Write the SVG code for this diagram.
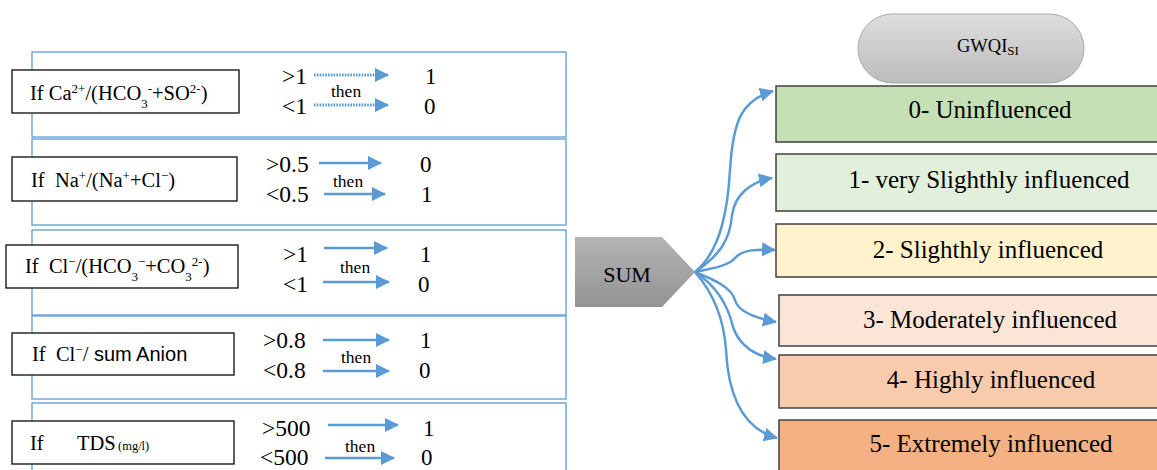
<svg xmlns="http://www.w3.org/2000/svg" width="1157" height="470" viewBox="0 0 1157 470" font-family="'Liberation Serif', 'Times New Roman', 'DejaVu Serif', serif">
<defs>
<style>
text{fill:#000;white-space:pre}
.outer{fill:#fff;stroke:#5B9BD5;stroke-width:1.3}
.cond{fill:#fff;stroke:#1a1a1a;stroke-width:1.4}
.lbl{font-size:20.5px}
.num{font-size:23.5px}
.res{font-size:23px}
.then{font-size:17.5px}
.arr{stroke:#5B9BD5;stroke-width:2.5;fill:none;marker-end:url(#ah)}
.dot{stroke-dasharray:1.6 1.2;stroke-width:3}
.cls{stroke:#404040;stroke-width:1.5}
.ct{font-size:25px;text-anchor:middle}
.sup{font-size:13px;baseline-shift:super}
.sub{font-size:13px;baseline-shift:sub}
</style>
<marker id="ah" viewBox="0 0 14 14" markerWidth="14" markerHeight="14" refX="13" refY="7" orient="auto" markerUnits="userSpaceOnUse">
<path d="M0,0 L14,7 L0,14 z" fill="#5B9BD5"/>
</marker>
<linearGradient id="gPill" x1="0" y1="0" x2="0" y2="1">
<stop offset="0" stop-color="#dedede"/>
<stop offset="1" stop-color="#bcbcbc"/>
</linearGradient>
<linearGradient id="gSum" x1="0" y1="0" x2="0" y2="1">
<stop offset="0" stop-color="#b4b4b4"/>
<stop offset="1" stop-color="#939393"/>
</linearGradient>
</defs>
<rect width="1157" height="470" fill="#fff"/>

<g id="rule1">
<rect class="outer" x="32" y="52" width="534" height="85"/>
<rect class="cond" x="12" y="70" width="227" height="43"/>
<text class="lbl" x="30" y="100">If Ca<tspan class="sup">2+</tspan>/(HCO<tspan class="sub">3</tspan><tspan class="sup">-</tspan>+SO<tspan class="sup">2-</tspan>)</text>
<text class="num" x="282" y="84">&gt;1</text>
<text class="num" x="282" y="114">&lt;1</text>
<text class="then" x="331" y="97">then</text>
<text class="res" x="425" y="84">1</text>
<text class="res" x="424" y="114">0</text>
</g>

<g id="rule2">
<rect class="outer" x="32" y="139" width="534" height="86"/>
<rect class="cond" x="12" y="157" width="225" height="44"/>
<text class="lbl" x="31" y="187">If  Na<tspan class="sup">+</tspan>/(Na<tspan class="sup">+</tspan>+Cl<tspan class="sup">−</tspan>)</text>
<text class="num" x="266" y="172">&gt;0.5</text>
<text class="num" x="266" y="202">&lt;0.5</text>
<text class="then" x="333" y="187">then</text>
<text class="res" x="420" y="172">0</text>
<text class="res" x="421" y="202">1</text>
</g>

<g id="rule3">
<rect class="outer" x="32" y="230" width="534" height="85"/>
<rect class="cond" x="6" y="245" width="232" height="43"/>
<text class="lbl" x="25" y="273">If  Cl<tspan class="sup">−</tspan>/(HCO<tspan class="sub">3</tspan><tspan class="sup">−</tspan>+CO<tspan class="sub">3</tspan><tspan class="sup">2-</tspan>)</text>
<text class="num" x="283" y="262">&gt;1</text>
<text class="num" x="283" y="292">&lt;1</text>
<text class="then" x="340" y="273">then</text>
<text class="res" x="420" y="262">1</text>
<text class="res" x="418" y="292">0</text>
</g>

<g id="rule4">
<rect class="outer" x="32" y="316" width="534" height="83"/>
<rect class="cond" x="12" y="333" width="222" height="42"/>
<text class="lbl" x="32" y="361">If  Cl<tspan class="sup">−</tspan>/<tspan font-family="'Liberation Sans', Arial, sans-serif" font-size="20px"> sum Anion</tspan></text>
<text class="num" x="263" y="348">&gt;0.8</text>
<text class="num" x="263" y="378">&lt;0.8</text>
<text class="then" x="341" y="363">then</text>
<text class="res" x="420" y="348">1</text>
<text class="res" x="419" y="378">0</text>
</g>

<g id="rule5">
<rect class="outer" x="32" y="403" width="534" height="75"/>
<rect class="cond" x="12" y="421" width="222" height="43"/>
<text class="lbl" x="30" y="450">If</text>
<text class="lbl" x="77" y="450">TDS</text>
<text x="118" y="450" font-size="12.5">(mg/l)</text>
<text class="num" x="262" y="436">&gt;500</text>
<text class="num" x="260" y="465">&lt;500</text>
<text class="then" x="345" y="452">then</text>
<text class="res" x="423" y="436">1</text>
<text class="res" x="421" y="465">0</text>
</g>

<g id="sum">
<polygon points="575,237 662,237 695,272 662,307 575,307" fill="url(#gSum)"/>
<text x="627" y="282" font-size="22" text-anchor="middle" fill="#222">SUM</text>
</g>

<g id="gwqi">
<rect x="858" y="14" width="226" height="69" rx="34.5" fill="url(#gPill)" stroke="#a8a8a8" stroke-width="1"/>
<text x="957" y="52" font-size="18.5" fill="#222">GWQI<tspan font-size="13" dy="3">SI</tspan></text>
</g>

<g id="class0">
<rect class="cls" x="776" y="86" width="390" height="56" fill="#C5E0B4"/>
<text class="ct" x="990" y="118">0- Uninfluenced</text>
</g>
<g id="class1">
<rect class="cls" x="776" y="154" width="390" height="57" fill="#E2EFDA"/>
<text class="ct" x="989" y="188">1- very Slighthly influenced</text>
</g>
<g id="class2">
<rect class="cls" x="776" y="224" width="390" height="53" fill="#FFF2CC"/>
<text class="ct" x="988" y="258">2- Slighthly influenced</text>
</g>
<g id="class3">
<rect class="cls" x="779" y="295" width="390" height="51" fill="#FBE5D6"/>
<text class="ct" x="990" y="328">3- Moderately influenced</text>
</g>
<g id="class4">
<rect class="cls" x="779" y="355" width="390" height="53" fill="#F8CBAD"/>
<text class="ct" x="991" y="388">4- Highly influenced</text>
</g>
<g id="class5">
<rect class="cls" x="779" y="420" width="390" height="60" fill="#F4B183"/>
<text class="ct" x="991" y="452">5- Extremely influenced</text>
</g>

<g id="connectors">
<line class="arr dot" x1="314" y1="75" x2="388" y2="75"/>
<line class="arr dot" x1="314" y1="105" x2="388" y2="105"/>
<line class="arr" x1="319" y1="163" x2="381" y2="163"/>
<line class="arr" x1="324" y1="194" x2="385" y2="194"/>
<line class="arr" x1="324" y1="248" x2="387" y2="248"/>
<line class="arr" x1="323" y1="282" x2="389" y2="282"/>
<line class="arr" x1="323" y1="340" x2="389" y2="340"/>
<line class="arr" x1="323" y1="371" x2="389" y2="371"/>
<line class="arr" x1="328" y1="425" x2="398" y2="425"/>
<line class="arr" x1="325" y1="458" x2="394" y2="458"/>
<path class="arr" d="M695,272 C722,250 728,205 730,170 C733,120 742,100 773,91"/>
<path class="arr" d="M695,272 C720,255 730,240 732,215 C735,195 750,182 772,178"/>
<path class="arr" d="M695,272 C715,268 730,265 735,258 C742,250 755,249 775,250"/>
<path class="arr" d="M695,272 C715,280 732,288 735,300 C738,312 755,318 776,322"/>
<path class="arr" d="M695,272 C715,285 728,305 733,327 C740,347 755,356 776,359"/>
<path class="arr" d="M695,272 C715,295 724,320 726,350 C728,390 740,428 777,438"/>
</g>
</svg>
